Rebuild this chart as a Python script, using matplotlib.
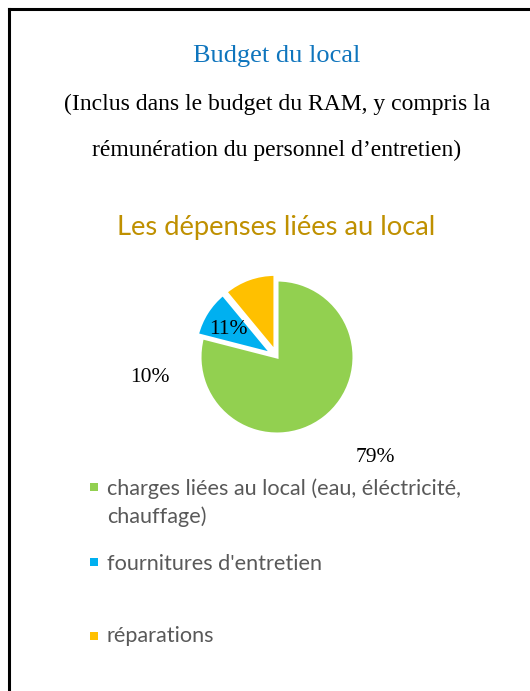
import matplotlib
matplotlib.use("Agg")
import matplotlib.pyplot as plt
from matplotlib.lines import Line2D
from matplotlib.patches import Rectangle

# données du graphique
categories = ["charges liées au local (eau, éléctricité,\nchauffage)",
              "fournitures d'entretien",
              "réparations"]
valeurs = [79, 10, 11]
couleurs = ["#92D050", "#00B0F0", "#FFC000"]

W, H = 530, 691
fig = plt.figure(figsize=(W / 100, H / 100), dpi=100)
fig.patch.set_facecolor("white")

def fx(px):
    return px / W

def fy(py):
    return 1 - py / H

# cadre (bord gauche et haut)
fig.add_artist(Line2D([fx(9), fx(9)], [fy(9), 0], color="black", lw=2.2))
fig.add_artist(Line2D([fx(9), 1], [fy(9), fy(9)], color="black", lw=2.2))

serif = "Liberation Serif"
sans = "Lato"

fig.text(fx(277), fy(56), "Budget du local", ha="center", va="center",
         family=serif, fontsize=19, color="#0F75BD")
fig.text(fx(277), fy(104), "(Inclus dans le budget du RAM, y compris la",
         ha="center", va="center", family=serif, fontsize=17, color="black")
fig.text(fx(277), fy(150), "rémunération du personnel d\u2019entretien)",
         ha="center", va="center", family=serif, fontsize=17, color="black")

fig.text(fx(276), fy(228), "Les dépenses liées au local", ha="center",
         va="center", family=sans, fontsize=19.7, color="#BF9000")

# camembert
ax = fig.add_axes([fx(277 - 100), fy(357 + 100), 200 / W, 200 / H])
wedges, _ = ax.pie(valeurs, colors=couleurs, startangle=90, counterclock=False,
                   radius=0.77, explode=[0, 0.06, 0.06],
                   wedgeprops=dict(edgecolor="white", linewidth=2.2))
ax.set_xlim(-1, 1)
ax.set_ylim(-1, 1)
ax.set_aspect("equal")
ax.axis("off")

pos_etiquettes = [(0.98, -1.01), (-1.27, -0.20), (-0.49, 0.27)]
for v, (x, y) in zip(valeurs, pos_etiquettes):
    ax.text(x, y, f"{v}%", ha="center", va="center", family=serif,
            fontsize=15.5, color="black", clip_on=False)

# légende
carres_y = [487, 562, 636]
lignes_base = [495, 570, 642]
for w, nom, yc, yb in zip(wedges, categories, carres_y, lignes_base):
    fig.add_artist(Rectangle((fx(90), fy(yc + 4)), 8 / W, 8 / H,
                             facecolor=w.get_facecolor(), edgecolor="none"))
    for i, ligne in enumerate(nom.split("\n")):
        fig.text(fx(107), fy(yb + 28 * i), ligne, ha="left", va="baseline",
                 family=sans, fontsize=15.6, color="#595959")

fig.savefig("out.png", dpi=100)
